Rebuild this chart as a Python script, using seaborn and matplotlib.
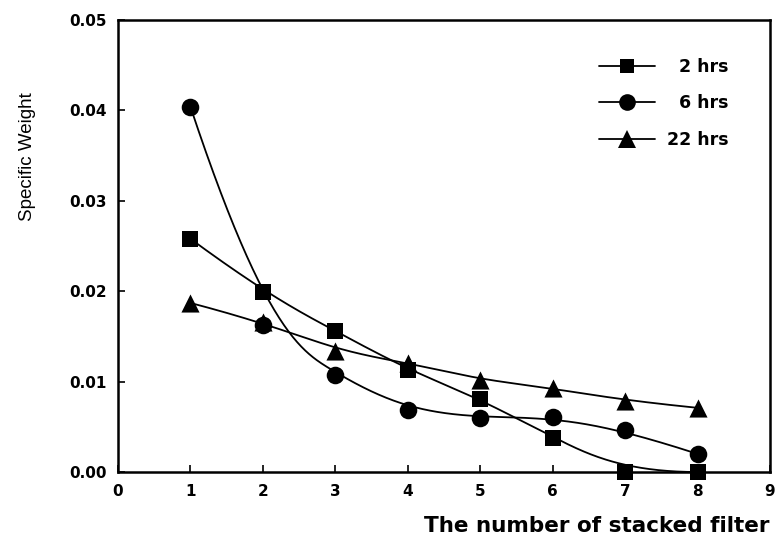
import numpy as np
import pandas as pd
import matplotlib
matplotlib.use("Agg")
import matplotlib.pyplot as plt
import seaborn as sns
from matplotlib.lines import Line2D

# ---- data ----
filters = [1, 2, 3, 4, 5, 6, 7, 8]
w_2hrs = [0.0258, 0.0199, 0.0156, 0.0113, 0.0081, 0.0038, 0.0000, 0.0000]
w_6hrs = [0.0404, 0.0163, 0.0107, 0.0069, 0.0060, 0.0061, 0.0046, 0.0020]
w_22hrs = [0.0187, 0.0166, 0.0134, 0.0121, 0.0102, 0.0093, 0.0079, 0.0071]
series_labels = ["2 hrs", "6 hrs", "22 hrs"]
legend_labels = ["  2 hrs", "  6 hrs", "22 hrs"]
markers = ["s", "o", "^"]
x_ticks = [0, 1, 2, 3, 4, 5, 6, 7, 8, 9]
y_ticks = [0.00, 0.01, 0.02, 0.03, 0.04, 0.05]


def bspline_curve(x, y, n=400, k=3):
    """Clamped cubic B-spline using the data points as control points."""
    P = np.column_stack([np.asarray(x, float), np.asarray(y, float)])
    m = len(P)
    inner = np.arange(1, m - k)
    t = np.concatenate([np.zeros(k + 1), inner, np.full(k + 1, m - k)]).astype(float)
    u = np.linspace(0, m - k, n)
    u[-1] -= 1e-9
    N = np.zeros((n, len(t) - 1))
    for i in range(len(t) - 1):
        N[:, i] = ((u >= t[i]) & (u < t[i + 1])).astype(float)
    for d in range(1, k + 1):
        Nn = np.zeros((n, len(t) - 1 - d))
        for i in range(len(t) - 1 - d):
            a = np.zeros(n)
            b = np.zeros(n)
            if t[i + d] != t[i]:
                a = (u - t[i]) / (t[i + d] - t[i]) * N[:, i]
            if t[i + d + 1] != t[i + 1]:
                b = (t[i + d + 1] - u) / (t[i + d + 1] - t[i + 1]) * N[:, i + 1]
            Nn[:, i] = a + b
        N = Nn
    C = N @ P
    return C[:, 0], C[:, 1]


sns.set_theme(style="white")
plt.rcParams["font.family"] = ["Liberation Sans", "DejaVu Sans"]
plt.rcParams.update({"text.color": "black", "axes.labelcolor": "black",
                     "xtick.color": "black", "ytick.color": "black"})
BOLDFONT = "DejaVu Sans"

fig = plt.figure(figsize=(7.82, 5.44), dpi=100)
ax = fig.add_axes([118 / 782, 72 / 544, (770 - 118) / 782, (472 - 20) / 544])

pts = pd.DataFrame({
    "filter": filters * 3,
    "weight": w_2hrs + w_6hrs + w_22hrs,
    "series": sum([[s] * len(filters) for s in series_labels], []),
})

curves = []
for s, vals in zip(series_labels, [w_2hrs, w_6hrs, w_22hrs]):
    xs, ys = bspline_curve(filters, vals)
    curves.append(pd.DataFrame({"filter": xs, "weight": ys, "series": s}))
curves = pd.concat(curves, ignore_index=True)

sns.lineplot(data=curves, x="filter", y="weight", units="series", estimator=None,
             color="black", linewidth=1.3, ax=ax, legend=False, sort=False)
sizes = {"2 hrs": 120, "6 hrs": 160, "22 hrs": 170}
for s, m in zip(series_labels, markers):
    sub = pts[pts["series"] == s]
    sns.scatterplot(data=sub, x="filter", y="weight", marker=m, color="black",
                    s=sizes[s], edgecolor="black", linewidth=0, ax=ax,
                    legend=False, zorder=3, clip_on=False)

ax.set_xlim(0, 9)
ax.set_ylim(0, 0.05)
ax.set_xticks(x_ticks)
ax.set_yticks(y_ticks)
ax.set_xticklabels([str(t) for t in x_ticks], fontsize=11, fontweight="bold",
                   family=BOLDFONT, color="black")
ax.set_yticklabels([f"{t:.2f}" for t in y_ticks], fontsize=11, fontweight="bold",
                   family=BOLDFONT, color="black")
ax.tick_params(axis="both", direction="in", length=5, width=1.2, color="black",
               bottom=True, left=True)
ax.tick_params(axis="x", pad=9)
ax.tick_params(axis="y", pad=8)
for sp in ax.spines.values():
    sp.set_color("black")
    sp.set_linewidth(1.8)

ax.set_xlabel("The number of stacked filter", fontsize=15.5, fontweight="bold",
              family=BOLDFONT, color="black", loc="right", labelpad=12)
ax.set_ylabel("Specific Weight", fontsize=13.5, color="black")
ax.yaxis.set_label_coords(-0.126, (472 - 157) / 452)

handles = [Line2D([0], [0], color="black", marker=m, linewidth=1.3,
                  markersize=ms, markeredgewidth=0)
           for m, ms in zip(markers, [10.5, 12, 12.5])]
leg = ax.legend(handles, legend_labels, loc="upper right", frameon=False,
                bbox_to_anchor=(0.96, 0.95), handlelength=3.2, labelspacing=1.05,
                handletextpad=0.7, prop={"family": BOLDFONT,
                                         "weight": "bold", "size": 12.5})
for txt in leg.get_texts():
    txt.set_color("black")

fig.savefig("out.png", dpi=100, facecolor="white")
